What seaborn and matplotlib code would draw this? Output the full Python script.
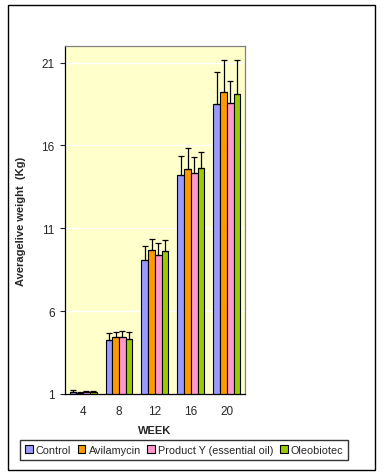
import numpy as np
import pandas as pd
import matplotlib
matplotlib.use('Agg')
import matplotlib.pyplot as plt
import seaborn as sb
from matplotlib.patches import Rectangle, Patch

weeks = ['4', '8', '12', '16', '20']
groups = ['Control', 'Avilamycin', 'Product Y (essential oil)', 'Oleobiotec']
weight = {
    'Control':                   [1.10, 4.24, 9.08, 14.23, 18.50],
    'Avilamycin':                [1.07, 4.43, 9.68, 14.58, 19.23],
    'Product Y (essential oil)': [1.10, 4.43, 9.38, 14.33, 18.56],
    'Oleobiotec':                [1.10, 4.34, 9.62, 14.64, 19.10],
}
err = {
    'Control':                   [0.12, 0.43, 0.84, 1.13, 1.93],
    'Avilamycin':                [0.05, 0.30, 0.69, 1.28, 1.93],
    'Product Y (essential oil)': [0.06, 0.36, 0.72, 0.97, 1.33],
    'Oleobiotec':                [0.10, 0.39, 0.67, 0.96, 2.06],
}
colors = ['#9999FF', '#FF9900', '#FF99CC', '#99CC00']

rows = []
for g in groups:
    for w, v in zip(weeks, weight[g]):
        rows.append({'Week': w, 'Group': g, 'Weight': v})
df = pd.DataFrame(rows)

sb.set_style('white')
plt.rcParams['font.family'] = ['Liberation Sans', 'DejaVu Sans']

fig = plt.figure(figsize=(3.87, 4.77), dpi=100)
fig.patch.set_facecolor('white')
ax = fig.add_axes([0.168, 0.172, 0.465, 0.7296])
ax.set_facecolor('#FFFFCC')

sb.barplot(data=df, x='Week', y='Weight', hue='Group', hue_order=groups,
           order=weeks, palette=colors, width=0.75, errorbar=None,
           edgecolor='black', linewidth=0.8, saturation=1, legend=False, ax=ax)

# error bars (plus only) on top of each bar
bars = ax.patches
i = 0
for g in groups:
    for j in range(len(weeks)):
        p = bars[i]
        i += 1
        xc = p.get_x() + p.get_width() / 2
        top = p.get_height()
        ax.errorbar(xc, top, yerr=[[0], [err[g][j]]], fmt='none',
                    ecolor='black', elinewidth=0.9, capsize=2.5, capthick=0.9)

ax.set_ylim(1, 22)
ax.set_xlim(-0.5, 4.5)
ax.set_yticks([1, 6, 11, 16, 21])
ax.yaxis.grid(True, color='white', linewidth=1)
ax.set_axisbelow(True)
ax.set_xticks(np.arange(-0.5, 5, 1), minor=True)
ax.tick_params(axis='x', which='major', length=0, labelsize=8.5, pad=8)
ax.tick_params(axis='x', which='minor', length=3.5, width=0.8, direction='out', color='black')
ax.tick_params(axis='y', length=3.5, width=0.8, direction='out', labelsize=8.5, left=True, pad=4)

for s in ['top', 'right']:
    ax.spines[s].set_color('#808080')
    ax.spines[s].set_linewidth(0.9)
for s in ['left', 'bottom']:
    ax.spines[s].set_color('black')
    ax.spines[s].set_linewidth(0.9)

ax.set_xlabel('WEEK', fontsize=8, fontweight='bold', labelpad=6)
ax.set_ylabel('Averagelive weight  (Kg)', fontsize=8, fontweight='bold', labelpad=11)

handles = [Patch(facecolor=c, edgecolor='black', linewidth=0.8) for c in colors]
fig.legend(handles, groups, loc='center', bbox_to_anchor=(0.476, 0.0545),
           ncol=4, fontsize=7.8, frameon=True, fancybox=False, edgecolor='black',
           handlelength=0.7, handleheight=0.7, handletextpad=0.3, columnspacing=0.6,
           borderpad=0.45, borderaxespad=0)

fig.patches.append(Rectangle((0.0207, 0.0126), 0.948, 0.975, transform=fig.transFigure,
                             fill=False, edgecolor='black', linewidth=1))

fig.savefig('out.png', dpi=100)
